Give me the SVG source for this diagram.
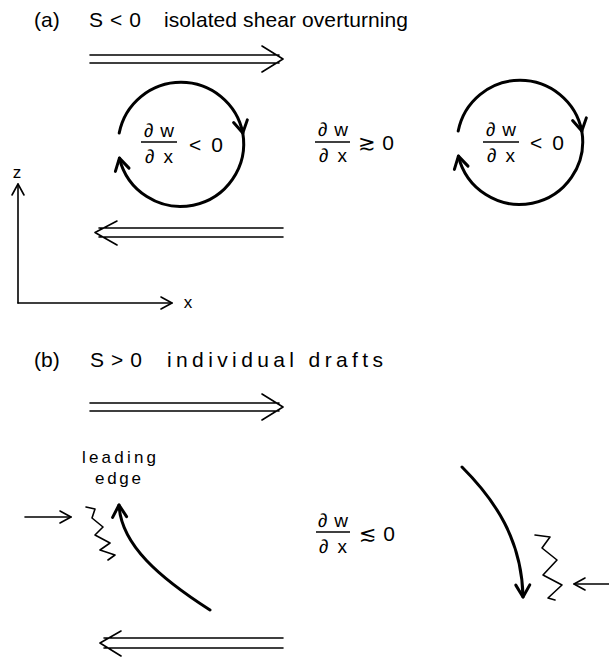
<svg xmlns="http://www.w3.org/2000/svg" width="609" height="664" viewBox="0 0 609 664">
<style>
  text { font-family: "Liberation Sans", "DejaVu Sans", sans-serif; fill: #000; }
  .title { font-size: 21px; }
  .frac { font-size: 19px; text-anchor: middle; }
  .rel { font-size: 21px; }
  .lbl { font-size: 17px; }
  .thick { fill: none; stroke: #000; stroke-width: 3; stroke-linecap: round; }
  .thin { fill: none; stroke: #000; stroke-width: 1.6; stroke-linecap: round; stroke-linejoin: round; }
  .bar { stroke: #000; stroke-width: 1.6; }
</style>
<defs>
  <marker id="headThick" markerUnits="userSpaceOnUse" markerWidth="30" markerHeight="30" viewBox="-15 -15 30 30" refX="0" refY="0" orient="auto">
    <path d="M -12 -7 L 0 0 L -12 7" fill="none" stroke="#000" stroke-width="3" stroke-linecap="round" stroke-linejoin="round"/>
  </marker>
  <marker id="headThin" markerUnits="userSpaceOnUse" markerWidth="30" markerHeight="30" viewBox="-15 -15 30 30" refX="0" refY="0" orient="auto">
    <path d="M -11 -6 L 0 0 L -11 6" fill="none" stroke="#000" stroke-width="1.6" stroke-linecap="round" stroke-linejoin="round"/>
  </marker>
</defs>

<g id="title-a">
  <text class="title" x="34" y="27">(a)</text>
  <text class="title" x="89" y="27" textLength="52" lengthAdjust="spacing">S &lt; 0</text>
  <text class="title" x="164" y="27" textLength="244" lengthAdjust="spacing">isolated shear overturning</text>
</g>

<g id="shear-top-a">
  <path class="thin" d="M90 55 L279 55 M90 63 L279 63 M262 46 L283 59 L262 72"/>
</g>

<g id="eddy-left">
  <path class="thick" d="M119.2 133 A63 63 0 0 1 242.8 133" marker-end="url(#headThick)"/>
  <path class="thick" d="M242.8 133 A63 63 0 0 1 119.4 158.1" marker-end="url(#headThick)"/>
  <text class="frac" x="159" y="137" textLength="30" lengthAdjust="spacing">∂w</text>
  <line class="bar" x1="141" y1="142" x2="177" y2="142"/>
  <text class="frac" x="159" y="163" textLength="28" lengthAdjust="spacing">∂x</text>
  <text class="rel" x="189" y="152" textLength="34" lengthAdjust="spacing">&lt; 0</text>
</g>

<g id="middle-a">
  <text class="frac" x="333" y="136" textLength="30" lengthAdjust="spacing">∂w</text>
  <line class="bar" x1="315" y1="142" x2="350" y2="142"/>
  <text class="frac" x="333" y="162" textLength="28" lengthAdjust="spacing">∂x</text>
  <text class="rel" x="358" y="150" textLength="36" lengthAdjust="spacing">≳ 0</text>
</g>

<g id="eddy-right">
  <path class="thick" d="M458.2 131 A63 63 0 0 1 581.8 131" marker-end="url(#headThick)"/>
  <path class="thick" d="M581.8 131 A63 63 0 0 1 458.4 156.1" marker-end="url(#headThick)"/>
  <text class="frac" x="501" y="136" textLength="30" lengthAdjust="spacing">∂w</text>
  <line class="bar" x1="483" y1="142" x2="519" y2="142"/>
  <text class="frac" x="501" y="162" textLength="28" lengthAdjust="spacing">∂x</text>
  <text class="rel" x="530" y="150" textLength="34" lengthAdjust="spacing">&lt; 0</text>
</g>

<g id="shear-bottom-a">
  <path class="thin" d="M283 228 L99 228 M283 237 L99 237 M117 221 L95 232.5 L117 245"/>
</g>

<g id="axes">
  <path class="thin" d="M18 303 L18 184" marker-end="url(#headThin)"/>
  <path class="thin" d="M18 303 L172 303" marker-end="url(#headThin)"/>
  <text class="lbl" x="17" y="178" text-anchor="middle">z</text>
  <text class="lbl" x="188" y="308" text-anchor="middle">x</text>
</g>

<g id="title-b">
  <text class="title" x="34" y="367">(b)</text>
  <text class="title" x="90" y="367" textLength="52" lengthAdjust="spacing">S &gt; 0</text>
  <text class="title" x="167" y="367" textLength="216" lengthAdjust="spacing">individual drafts</text>
</g>

<g id="shear-top-b">
  <path class="thin" d="M90 403 L279 403 M90 411 L279 411 M262 394 L283 407 L262 420"/>
</g>

<g id="leading-edge">
  <text class="lbl" x="119" y="463" text-anchor="middle" textLength="74" lengthAdjust="spacing">leading</text>
  <text class="lbl" x="118" y="484" text-anchor="middle" textLength="46" lengthAdjust="spacing">edge</text>
  <path class="thin" d="M25 517 L71 517" marker-end="url(#headThin)"/>
  <path class="thin" d="M86 507 L95 509 L92 518 L103 527 L95 535 L110 543 L100 550 L115 555 L108 560"/>
  <path class="thick" d="M210 610 C160 578 121 545 119 505" marker-end="url(#headThick)"/>
</g>

<g id="middle-b">
  <text class="frac" x="333" y="527" textLength="30" lengthAdjust="spacing">∂w</text>
  <line class="bar" x1="316" y1="532" x2="350" y2="532"/>
  <text class="frac" x="333" y="553" textLength="28" lengthAdjust="spacing">∂x</text>
  <text class="rel" x="359" y="541" textLength="36" lengthAdjust="spacing">≲ 0</text>
</g>

<g id="trailing-edge">
  <path class="thick" d="M462 467 C495 500 522 540 523 597" marker-end="url(#headThick)"/>
  <path class="thin" d="M535 535 L550 537 L542 548 L557 560 L543 575 L562 585 L548 598 L555 600"/>
  <path class="thin" d="M609 584 L574 584" marker-end="url(#headThin)"/>
</g>

<g id="shear-bottom-b">
  <path class="thin" d="M283 638 L104 638 M283 648 L104 648 M121 631 L100 643 L121 656"/>
</g>
</svg>
